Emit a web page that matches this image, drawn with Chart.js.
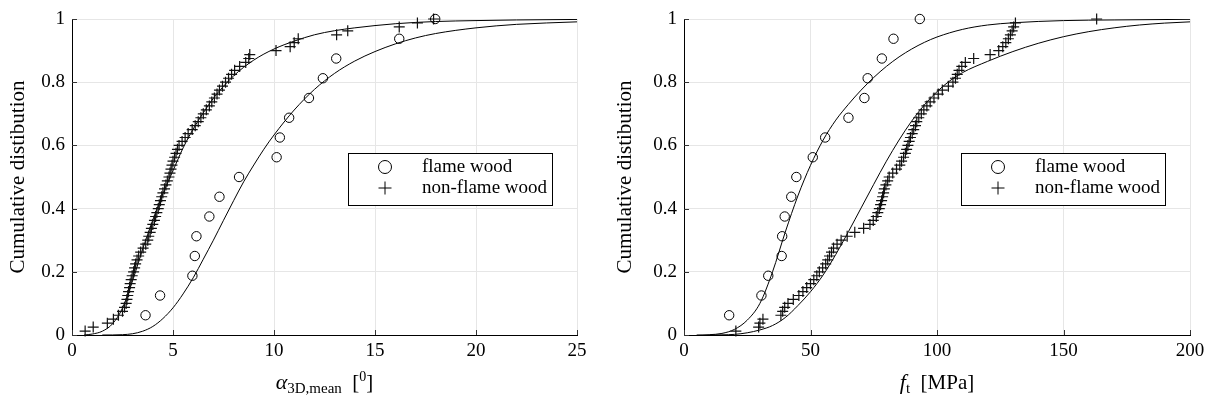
<!DOCTYPE html>
<html>
<head>
<meta charset="utf-8">
<script src="https://cdn.jsdelivr.net/npm/chart.js@4.4.1/dist/chart.umd.min.js"></script>
<style>
  body { margin: 0; background: #fff; }
  .wrap { display: flex; width: 1214px; height: 406px; }
  canvas { display: block; }
</style>
</head>
<body>
<div class="wrap">
  <canvas id="angleChart" width="607" height="406"></canvas>
  <canvas id="strengthChart" width="607" height="406"></canvas>
</div>
<script>
const FONT = '"Liberation Serif", "Times New Roman", serif';

// tick labels
const cumulativeTicks = [0, 0.2, 0.4, 0.6, 0.8, 1];
const angleTicks = [0, 5, 10, 15, 20, 25];
const strengthTicks = [0, 50, 100, 150, 200];

const seriesNames = ['flame wood', 'non-flame wood'];
const yAxisLabel = 'Cumulative distibution';

// flame wood specimens (circles)
const flameCdf = [0.0625, 0.125, 0.1875, 0.25, 0.3125, 0.375, 0.4375, 0.5,
  0.5625, 0.625, 0.6875, 0.75, 0.8125, 0.875, 0.9375, 1];
const angleFlame = [3.64, 4.36, 5.96, 6.08, 6.16, 6.8, 7.3, 8.27,
  10.13, 10.29, 10.75, 11.73, 12.42, 13.08, 16.2, 17.98];
const strengthFlame = [17.85, 30.6, 33.3, 38.6, 38.8, 39.8, 42.4, 44.4,
  50.9, 55.8, 65.0, 71.3, 72.6, 78.2, 82.8, 93.2];

// non-flame wood specimens (plus signs)
const nonFlameCdf = [0.0125, 0.025, 0.0375, 0.05, 0.0625, 0.075, 0.0875, 0.1,
  0.1125, 0.125, 0.1375, 0.15, 0.1625, 0.175, 0.1875, 0.2,
  0.2125, 0.225, 0.2375, 0.25, 0.2625, 0.275, 0.2875, 0.3,
  0.3125, 0.325, 0.3375, 0.35, 0.3625, 0.375, 0.3875, 0.4,
  0.4125, 0.425, 0.4375, 0.45, 0.4625, 0.475, 0.4875, 0.5,
  0.5125, 0.525, 0.5375, 0.55, 0.5625, 0.575, 0.5875, 0.6,
  0.6125, 0.625, 0.6375, 0.65, 0.6625, 0.675, 0.6875, 0.7,
  0.7125, 0.725, 0.7375, 0.75, 0.7625, 0.775, 0.7875, 0.8,
  0.8125, 0.825, 0.8375, 0.85, 0.8625, 0.875, 0.8875, 0.9,
  0.9125, 0.925, 0.9375, 0.95, 0.9625, 0.975, 0.9875, 1];
const angleNonFlame = [0.65, 1.05, 1.75, 2.05, 2.3, 2.5, 2.6, 2.68,
  2.72, 2.76, 2.8, 2.85, 2.88, 2.93, 2.98, 3.05,
  3.1, 3.15, 3.22, 3.3, 3.4, 3.52, 3.65, 3.75,
  3.8, 3.87, 3.93, 4.0, 4.08, 4.14, 4.2, 4.27,
  4.32, 4.38, 4.44, 4.5, 4.58, 4.65, 4.72, 4.8,
  4.85, 4.9, 4.95, 5.0, 5.08, 5.15, 5.22, 5.3,
  5.45, 5.6, 5.75, 5.95, 6.1, 6.25, 6.38, 6.5,
  6.65, 6.8, 6.92, 7.05, 7.18, 7.3, 7.45, 7.6,
  7.75, 7.9, 8.05, 8.3, 8.6, 8.75, 8.8, 10.1,
  10.8, 11.0, 11.2, 13.1, 13.65, 16.2, 17.1, 17.9];
const strengthNonFlame = [20.5, 29.5, 30.0, 31.2, 38.3, 39.0, 39.8, 41.1,
  43.2, 45.4, 47.0, 48.5, 50.0, 51.3, 52.5, 53.5,
  54.8, 56.0, 56.8, 57.5, 58.3, 59.1, 60.5, 62.1,
  64.5, 67.5, 71.0, 73.5, 74.8, 76.0, 76.6, 77.2,
  77.7, 78.1, 78.5, 78.9, 79.2, 79.8, 80.5, 81.1,
  82.5, 84.0, 85.3, 86.0, 86.8, 87.5, 88.0, 88.5,
  89.0, 89.5, 90.2, 90.8, 91.5, 92.0, 92.8, 93.8,
  94.8, 96.0, 97.3, 98.8, 100.5, 102.1, 104.5, 106.3,
  107.3, 108.0, 108.7, 109.8, 111.2, 114.5, 121.0, 124.4,
  126.0, 127.2, 128.2, 129.0, 129.7, 130.3, 131.0, 163.1];

// fitted distributions
const angleFitFlameX = [1.5, 2, 2.5, 3, 3.5, 4, 4.5, 5, 5.5, 6, 6.5, 7, 7.5, 8, 8.5, 9, 9.5, 10,
  11, 12, 13, 14, 15, 16, 17, 18, 20, 22, 25];
const angleFitFlameY = [0, 0.0001, 0.001, 0.004, 0.012, 0.027, 0.052, 0.086, 0.13, 0.181, 0.24, 0.3, 0.363, 0.425, 0.485, 0.538, 0.588, 0.633,
  0.712, 0.777, 0.828, 0.867, 0.897, 0.921, 0.94, 0.954, 0.972, 0.983, 0.991];
const angleFitNonFlameX = [0.6, 1, 1.5, 2, 2.5, 3, 3.5, 4, 4.5, 5, 5.5, 6, 6.5, 7, 8, 9,
  10, 11, 12, 13, 14, 16, 18, 20, 22, 25];
const angleFitNonFlameY = [0, 0.003, 0.012, 0.035, 0.085, 0.172, 0.272, 0.364, 0.447, 0.52, 0.592, 0.652, 0.703, 0.749, 0.82, 0.87,
  0.905, 0.93, 0.95, 0.963, 0.972, 0.985, 0.992, 0.995, 0.997, 0.9986];
const strengthFitFlameX = [5, 10, 15, 20, 25, 30, 35, 40, 45, 50, 55, 60, 65, 70, 75, 80,
  85, 90, 95, 100, 110, 120, 130, 150, 170, 200];
const strengthFitFlameY = [0, 0.001, 0.005, 0.018, 0.047, 0.1, 0.2, 0.325, 0.44, 0.537, 0.617, 0.68, 0.73, 0.775, 0.815, 0.85,
  0.88, 0.905, 0.926, 0.943, 0.967, 0.981, 0.988, 0.995, 0.997, 0.999];
const strengthFitNonFlameX = [10, 15, 20, 25, 30, 35, 40, 45, 50, 55, 60, 65, 70, 75, 80, 85,
  90, 95, 100, 105, 110, 120, 130, 140, 150, 160, 170, 180, 190, 200];
const strengthFitNonFlameY = [0, 0.0005, 0.002, 0.007, 0.016, 0.03, 0.055, 0.093, 0.137, 0.19, 0.255, 0.327, 0.402, 0.477, 0.55, 0.617,
  0.677, 0.728, 0.77, 0.804, 0.83, 0.866, 0.897, 0.923, 0.944, 0.96, 0.972, 0.981, 0.987, 0.991];

const pts = (xs, ys) => xs.map((x, i) => ({ x: x, y: ys[i] }));

// small inward tick marks on the two axes
const innerTicks = {
  id: 'innerTicks',
  beforeDatasetsDraw(chart) {
    const { ctx, chartArea: a, scales: { x, y } } = chart;
    ctx.save();
    ctx.strokeStyle = '#333';
    ctx.lineWidth = 1;
    ctx.beginPath();
    x.ticks.forEach(t => {
      const px = Math.round(x.getPixelForValue(t.value)) + 0.5;
      ctx.moveTo(px, a.bottom);
      ctx.lineTo(px, a.bottom - 5);
    });
    y.ticks.forEach(t => {
      const py = Math.round(y.getPixelForValue(t.value)) + 0.5;
      ctx.moveTo(a.left, py);
      ctx.lineTo(a.left + 5, py);
    });
    ctx.stroke();
    ctx.restore();
  }
};

// boxed legend inside the plot, like the original figure
const boxLegend = {
  id: 'boxLegend',
  afterDatasetsDraw(chart, args, opts) {
    const { ctx, chartArea: a } = chart;
    const w = 204, h = 52;
    const left = a.right - 25 - w, top = a.top + 134;
    ctx.save();
    ctx.fillStyle = '#fff';
    ctx.fillRect(left, top, w, h);
    ctx.strokeStyle = '#000';
    ctx.lineWidth = 1;
    ctx.strokeRect(Math.round(left) + 0.5, Math.round(top) + 0.5, w, h);

    const mx = left + 37, tx = left + 74;
    const y1 = top + 14, y2 = top + 35;
    ctx.beginPath();
    ctx.arc(mx, y1, 6.5, 0, Math.PI * 2);
    ctx.stroke();
    ctx.beginPath();
    ctx.moveTo(mx - 6.5, y2); ctx.lineTo(mx + 6.5, y2);
    ctx.moveTo(mx, y2 - 6.5); ctx.lineTo(mx, y2 + 6.5);
    ctx.stroke();

    ctx.fillStyle = '#000';
    ctx.font = '19px ' + FONT;
    ctx.textBaseline = 'middle';
    ctx.textAlign = 'left';
    ctx.fillText(opts.labels[0], tx, y1);
    ctx.fillText(opts.labels[1], tx, y2);
    ctx.restore();
  }
};

// axis titles with sub/superscripts
const axisTitles = {
  id: 'axisTitles',
  afterDraw(chart, args, opts) {
    const { ctx, chartArea: a } = chart;
    ctx.save();
    ctx.fillStyle = '#000';
    ctx.textBaseline = 'alphabetic';
    ctx.textAlign = 'left';

    // x title: list of [text, font, dy]
    let total = 0;
    opts.x.forEach(p => { ctx.font = p[1]; total += ctx.measureText(p[0]).width; });
    let cx = (a.left + a.right) / 2 - total / 2;
    const base = 389;
    opts.x.forEach(p => {
      ctx.font = p[1];
      ctx.fillText(p[0], cx, base + p[2]);
      cx += ctx.measureText(p[0]).width;
    });

    // y title
    ctx.translate(18, (a.top + a.bottom) / 2);
    ctx.rotate(-Math.PI / 2);
    ctx.font = '21px ' + FONT;
    ctx.textAlign = 'center';
    ctx.textBaseline = 'middle';
    ctx.fillText(opts.y, 0, 0);
    ctx.restore();
  }
};

function makeChart(id, cfg) {
  return new Chart(document.getElementById(id), {
    type: 'scatter',
    data: {
      datasets: [
        {
          label: seriesNames[0],
          data: pts(cfg.flameX, flameCdf),
          pointStyle: 'circle',
          pointRadius: 4.7,
          pointBorderWidth: 1,
          borderColor: '#000',
          backgroundColor: 'rgba(0,0,0,0)',
          showLine: false,
          clip: false
        },
        {
          label: seriesNames[1],
          data: pts(cfg.nonFlameX, nonFlameCdf),
          pointStyle: 'cross',
          pointRadius: 5.5,
          pointBorderWidth: 1.2,
          borderColor: '#111',
          backgroundColor: '#111',
          showLine: false,
          clip: false
        },
        {
          label: 'fit flame',
          data: pts(cfg.fitFlameX, cfg.fitFlameY),
          showLine: true,
          pointRadius: 0,
          borderColor: '#000',
          borderWidth: 1,
          cubicInterpolationMode: 'monotone'
        },
        {
          label: 'fit non-flame',
          data: pts(cfg.fitNonFlameX, cfg.fitNonFlameY),
          showLine: true,
          pointRadius: 0,
          borderColor: '#000',
          borderWidth: 1,
          cubicInterpolationMode: 'monotone'
        }
      ]
    },
    options: {
      responsive: false,
      animation: false,
      events: [],
      layout: { padding: { left: 0, top: 19, right: cfg.padRight, bottom: 0 } },
      scales: {
        x: {
          type: 'linear',
          min: cfg.xTicks[0],
          max: cfg.xTicks[cfg.xTicks.length - 1],
          afterBuildTicks: s => { s.ticks = cfg.xTicks.map(v => ({ value: v })); },
          afterFit: s => { s.height = 71; },
          grid: { color: '#e6e6e6', drawTicks: false },
          border: { color: '#000', width: 1 },
          ticks: { color: '#000', padding: 5, font: { family: FONT, size: 19 } }
        },
        y: {
          type: 'linear',
          min: 0,
          max: 1,
          afterBuildTicks: s => { s.ticks = cumulativeTicks.map(v => ({ value: v })); },
          afterFit: s => { s.width = cfg.yWidth; },
          grid: { color: '#e6e6e6', drawTicks: false },
          border: { color: '#000', width: 1 },
          ticks: { color: '#000', padding: 7, font: { family: FONT, size: 19 },
            callback: v => String(v) }
        }
      },
      plugins: {
        legend: { display: false },
        tooltip: { enabled: false },
        boxLegend: { labels: seriesNames },
        axisTitles: { x: cfg.xTitle, y: yAxisLabel }
      }
    },
    plugins: [innerTicks, boxLegend, axisTitles]
  });
}

makeChart('angleChart', {
  flameX: angleFlame,
  nonFlameX: angleNonFlame,
  fitFlameX: angleFitFlameX, fitFlameY: angleFitFlameY,
  fitNonFlameX: angleFitNonFlameX, fitNonFlameY: angleFitNonFlameY,
  xTicks: angleTicks,
  yWidth: 72,
  padRight: 30,
  xTitle: [
    ['\u03b1', 'italic 22px ' + FONT, 0],
    ['3D,mean', '15px ' + FONT, 4],
    ['  [', '21px ' + FONT, 0],
    ['0', '14px ' + FONT, -8],
    [']', '21px ' + FONT, 0]
  ]
});

makeChart('strengthChart', {
  flameX: strengthFlame,
  nonFlameX: strengthNonFlame,
  fitFlameX: strengthFitFlameX, fitFlameY: strengthFitFlameY,
  fitNonFlameX: strengthFitNonFlameX, fitNonFlameY: strengthFitNonFlameY,
  xTicks: strengthTicks,
  yWidth: 77,
  padRight: 24,
  xTitle: [
    ['f', 'italic 22px ' + FONT, 0],
    ['t', '15px ' + FONT, 4],
    ['  [MPa]', '21px ' + FONT, 0]
  ]
});
</script>
</body>
</html>
